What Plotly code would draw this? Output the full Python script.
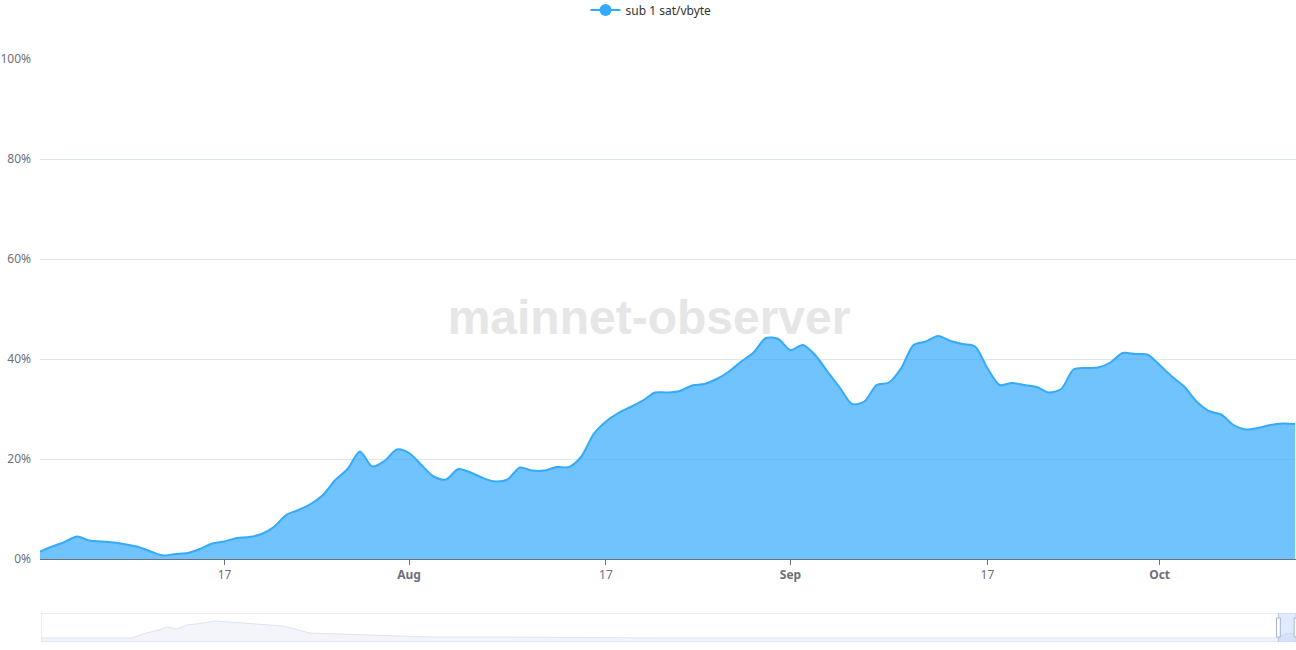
import datetime as dt
import plotly.graph_objects as go

# ---- main series: daily share of sub 1 sat/vbyte transactions (%) ----
start_date = dt.date(2024, 7, 2)
sub1_values = [
    1.5, 2.5, 3.4, 4.5, 3.7, 3.5, 3.3, 2.9, 2.4, 1.5,
    0.7, 1.0, 1.2, 2.0, 3.1, 3.5, 4.2, 4.4, 5.0, 6.4,
    8.8, 9.8, 11.0, 12.8, 15.8, 18.0, 21.5, 18.5, 19.6, 21.9,
    21.2, 18.8, 16.5, 15.9, 18.0, 17.3, 16.2, 15.5, 15.9, 18.3,
    17.7, 17.7, 18.4, 18.4, 20.5, 25.0, 27.5, 29.2, 30.4, 31.7,
    33.3, 33.3, 33.6, 34.7, 35.0, 36.0, 37.5, 39.5, 41.3, 44.2,
    44.0, 41.8, 42.8, 40.8, 37.5, 34.3, 31.0, 31.5, 34.8, 35.3,
    38.2, 42.8, 43.5, 44.6, 43.6, 43.0, 42.5, 38.2, 34.8, 35.2,
    34.8, 34.4, 33.3, 34.0, 37.9, 38.2, 38.3, 39.3, 41.2, 41.0,
    40.9, 38.8, 36.5, 34.5, 31.5, 29.6, 28.9, 26.8, 25.9, 26.2,
    26.8, 27.1, 27.0,
]
dates = [start_date + dt.timedelta(days=i) for i in range(len(sub1_values))]

tick_dates = ["2024-07-17", "2024-08-01", "2024-08-17", "2024-09-01", "2024-09-17", "2024-10-01"]
tick_labels = ["17", "<b>Aug</b>", "17", "<b>Sep</b>", "17", "<b>Oct</b>"]
y_ticks = [0, 20, 40, 60, 80, 100]
y_tick_labels = ["0%", "20%", "40%", "60%", "80%", "100%"]

# ---- overview (data-zoom) mini series: position in % of full history, relative height ----
overview_pos = [0, 5, 7.2, 8.4, 9.4, 10.0, 10.8, 11.6, 12.4, 13.9, 15.1, 16.2, 17.5, 18.7,
                19.3, 21.4, 23.8, 26.2, 28.6, 31.0, 36.6, 50, 70, 90, 98.5, 99.2, 100]
overview_h = [4, 4, 4, 9, 12, 15, 13, 17, 18, 21, 20, 19, 18, 17,
              16, 9, 8, 7, 6, 5, 5, 4, 4, 4, 4, 8, 9]

LINE = "#33aafb"
FILL = "rgba(51,170,251,0.70)"
AXIS = "#6E7079"
GRID = "#E0E6F1"
FONT = "Noto Sans"

fig = go.Figure()

# watermark (drawn first so the area sits over it)
fig.add_trace(go.Scatter(
    x=[dt.datetime(2024, 8, 20, 12)], y=[47.4], mode="text",
    text=["mainnet-observer"],
    textfont=dict(family="Liberation Sans", size=48, color="#e6e6e6", weight="bold"),
    showlegend=False, hoverinfo="skip",
))

fig.add_trace(go.Scatter(
    x=dates, y=sub1_values, mode="lines",
    line=dict(color=LINE, width=2, shape="spline", smoothing=0.8),
    fill="tozeroy", fillcolor=FILL,
    name="sub 1 sat/vbyte", showlegend=False,
))

# legend entry
fig.add_trace(go.Scatter(
    x=[None], y=[None], mode="lines+markers",
    line=dict(color=LINE, width=2), marker=dict(color=LINE, size=12),
    name="sub 1 sat/vbyte",
))

# overview mini chart
fig.add_trace(go.Scatter(
    x=overview_pos, y=overview_h, mode="lines",
    line=dict(color="#dde3f1", width=1), fill="tozeroy", fillcolor="#f3f5fa",
    xaxis="x2", yaxis="y2", showlegend=False, hoverinfo="skip",
))

x_end = dt.datetime(2024, 10, 12, 2)
H_TOTAL = 583.0
main_bottom = (642 - 559) / H_TOTAL

fig.update_layout(
    width=1296, height=650,
    margin=dict(l=40, r=0, t=59, b=8, autoexpand=False),
    paper_bgcolor="white", plot_bgcolor="white",
    font=dict(family=FONT, size=12, color=AXIS),
    showlegend=True,
    legend=dict(orientation="h", x=0.5 - 17 / 1256, xanchor="center", y=1 + 49 / H_TOTAL, yanchor="middle",
                font=dict(family=FONT, size=12, color="#333333"), itemwidth=30,
                bgcolor="rgba(0,0,0,0)"),
    xaxis=dict(
        domain=[0, 1], type="date", range=[dt.datetime(2024, 7, 2), x_end],
        tickvals=tick_dates, ticktext=tick_labels,
        showgrid=False, zeroline=False,
        showline=True, linecolor=AXIS, linewidth=1,
        ticks="outside", ticklen=5, tickcolor=AXIS,
        tickfont=dict(family=FONT, size=12, color=AXIS),
        anchor="y", automargin=False,
    ),
    yaxis=dict(
        domain=[main_bottom, 1], range=[0, 100],
        tickvals=y_ticks, ticktext=y_tick_labels,
        showgrid=True, gridcolor=GRID, gridwidth=1,
        zeroline=False, showline=False, ticks="",
        ticklabelstandoff=8, automargin=False,
        tickfont=dict(family=FONT, size=12, color=AXIS),
    ),
    xaxis2=dict(domain=[1 / 1256, 1], range=[0, 100], visible=False, anchor="y2"),
    yaxis2=dict(domain=[0, 29 / H_TOTAL], range=[0, 29], visible=False, anchor="x2"),
    shapes=[
        # slider frame
        dict(type="rect", xref="x2", yref="y2", x0=0, x1=100, y0=0, y1=29,
             line=dict(color="#d2dbee", width=1), fillcolor="rgba(0,0,0,0)", layer="above"),
        # selected window
        dict(type="rect", xref="x2", yref="y2", x0=98.6, x1=100, y0=0, y1=29,
             line=dict(width=0), fillcolor="rgba(135,175,274,0.25)", layer="above"),
        dict(type="line", xref="x2", yref="y2", x0=98.6, x1=98.6, y0=0, y1=29,
             line=dict(color="#b8c5e6", width=1), layer="above"),
        # handles
        dict(type="rect", xref="x2", yref="y2", x0=98.45, x1=98.75, y0=5, y1=24,
             line=dict(color="#a9b4c9", width=1), fillcolor="white", layer="above"),
        dict(type="rect", xref="x2", yref="y2", x0=99.85, x1=100.15, y0=5, y1=24,
             line=dict(color="#a9b4c9", width=1), fillcolor="white", layer="above"),
    ],
)

fig.write_html(
    "out.html",
    config={"displayModeBar": False},
    post_script="document.body.style.margin='0';document.body.style.overflow='hidden';",
)
